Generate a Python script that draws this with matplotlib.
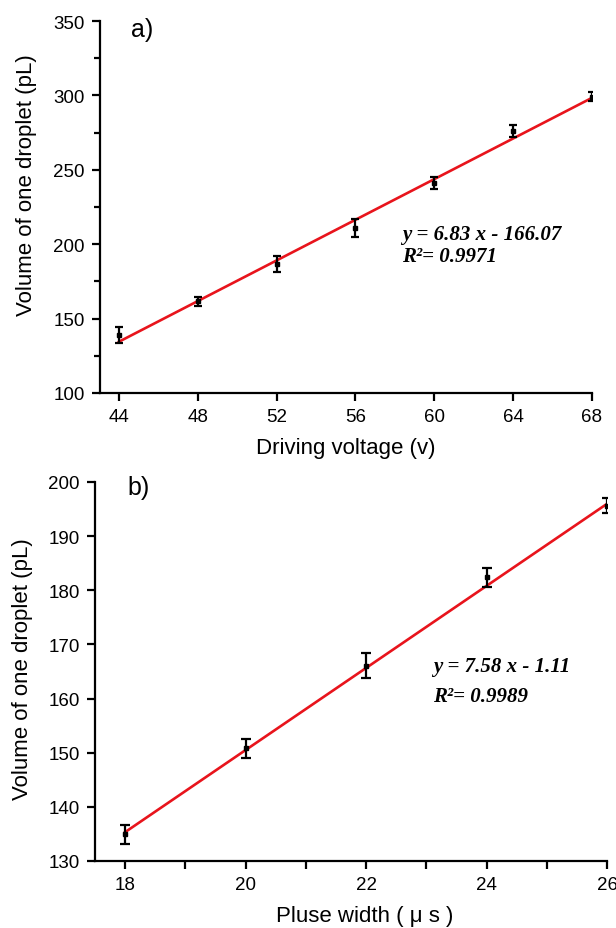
import matplotlib
matplotlib.use("Agg")
import matplotlib.pyplot as plt
import numpy as np
from matplotlib.ticker import MultipleLocator

plt.rcParams['font.family'] = ['Liberation Sans', 'DejaVu Sans']

# a) driving voltage
volt = [44, 48, 52, 56, 60, 64, 68]
vol_a = [139, 161.8, 186.7, 211, 241, 276, 299]
err_a = [5.5, 3, 5.5, 6, 4, 4, 3]
fit_a = (6.83, -166.07)
eq_a = "y = 6.83 x - 166.07"
r2_a = "R²= 0.9971"

# b) pulse width
width = [18, 20, 22, 24, 26]
vol_b = [134.9, 150.8, 166.1, 182.4, 195.6]
err_b = [1.8, 1.8, 2.3, 1.8, 1.4]
fit_b = (7.58, -1.11)
eq_b = "y = 7.58 x - 1.11"
r2_b = "R²= 0.9989"

fig = plt.figure(figsize=(6.16, 9.29), dpi=100)
W, H = 616, 929

def add_ax(l, r, t, b):
    return fig.add_axes([l / W, (H - b) / H, (r - l) / W, (b - t) / H])

ax1 = add_ax(100, 592, 22, 394)
ax2 = add_ax(95, 607, 483, 862)

def style(ax):
    for s in ['top', 'right']:
        ax.spines[s].set_visible(False)
    for s in ['left', 'bottom']:
        ax.spines[s].set_linewidth(1.6)
    ax.tick_params(which='major', direction='out', length=6, width=1.6, labelsize=13.5)
    ax.tick_params(axis='y', which='major', pad=5)
    ax.tick_params(axis='x', which='major', pad=5)
    ax.tick_params(which='minor', direction='out', length=4, width=1.6)

def draw(ax, xs, ys, es, fit, cap):
    xf = np.array([xs[0], xs[-1]])
    ax.plot(xf, fit[0] * xf + fit[1], color='#e8141c', lw=1.9, zorder=2)
    ax.errorbar(xs, ys, yerr=es, fmt='s', color='black', ms=3.2, capsize=cap,
                elinewidth=1.6, capthick=1.6, zorder=3)

# panel a
style(ax1)
draw(ax1, volt, vol_a, err_a, fit_a, 3)
ax1.set_xlim(43.04, 68)
ax1.set_ylim(100, 350)
ax1.set_xticks(volt)
ax1.yaxis.set_major_locator(MultipleLocator(50))
ax1.yaxis.set_minor_locator(MultipleLocator(25))
ax1.set_xlabel("Driving voltage (v)", fontsize=16, va='top')
ax1.set_ylabel("Volume of one droplet (pL)", fontsize=16)
ax1.xaxis.set_label_coords(0.5, -0.118)
ax1.yaxis.set_label_coords(-0.128, 0.562)
ax1.text(0.063, 0.978, "a)", transform=ax1.transAxes, fontsize=18, va='center', ha='left')
tf = dict(family=['Liberation Serif', 'DejaVu Serif'], style='italic', weight='bold', fontsize=15,
          va='center', ha='left')
ax1.text(0.614, 0.427, eq_a, transform=ax1.transAxes, **tf)
ax1.text(0.614, 0.368, r2_a, transform=ax1.transAxes, **tf)

# panel b
style(ax2)
draw(ax2, width, vol_b, err_b, fit_b, 3.5)
ax2.set_xlim(17.5, 26)
ax2.set_ylim(130, 200)
ax2.xaxis.set_major_locator(MultipleLocator(2))
ax2.xaxis.set_minor_locator(MultipleLocator(1))
ax2.yaxis.set_major_locator(MultipleLocator(10))
ax2.tick_params(axis='x', which='minor', length=6)
ax2.set_xlabel("Pluse width ( μ s )", fontsize=16, va='top')
ax2.set_ylabel("Volume of one droplet (pL)", fontsize=16)
ax2.xaxis.set_label_coords(0.527, -0.116)
ax2.yaxis.set_label_coords(-0.121, 0.508)
ax2.text(0.0625, 0.987, "b)", transform=ax2.transAxes, fontsize=18, va='center', ha='left')
ax2.text(0.66, 0.515, eq_b, transform=ax2.transAxes, **tf)
ax2.text(0.66, 0.435, r2_b, transform=ax2.transAxes, **tf)

fig.savefig("out.png", dpi=100)
